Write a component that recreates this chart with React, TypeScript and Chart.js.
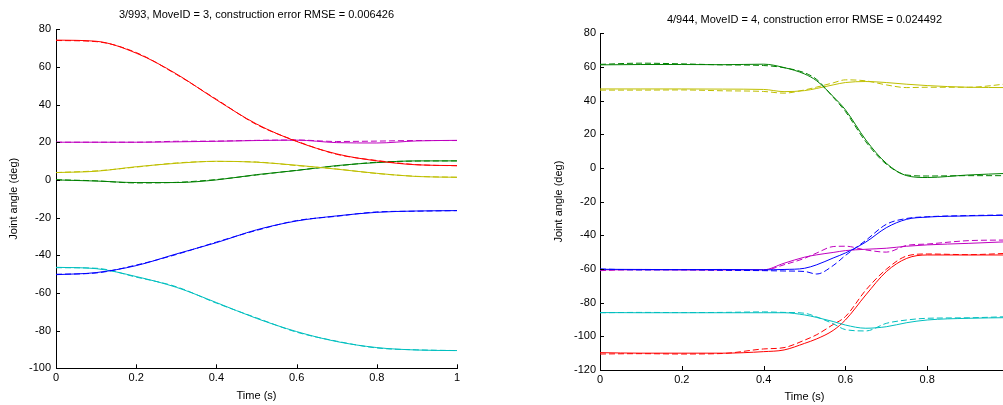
import React, { useEffect, useRef } from "react";
import { Chart, registerables } from "chart.js";

Chart.register(...registerables);

const LEFT_TITLE = "3/993, MoveID = 3, construction error RMSE = 0.006426";
const RIGHT_TITLE = "4/944, MoveID = 4, construction error RMSE = 0.024492";
const X_LABEL = "Time (s)";
const Y_LABEL = "Joint angle (deg)";

// ---------- left subplot (MoveID 3) ----------
const LEFT_TIME = [0, 0.1, 0.2, 0.3, 0.4, 0.5, 0.6, 0.7, 0.8, 0.9, 1.0];
const L_RED = [74.2, 73.6, 67.3, 56.3, 42.5, 29.7, 20.4, 13.8, 10.1, 8.0, 7.6];
const L_RED_REC = [74.0, 73.4, 67.6, 56.0, 42.8, 29.4, 20.6, 13.6, 10.3, 8.1, 7.5];
const L_MAGENTA = [20, 20, 20, 20.2, 20.5, 20.9, 21.1, 19.8, 19.6, 20.7, 21];
const L_MAGENTA_REC = [20, 20, 20, 20.5, 20.6, 21.0, 21.2, 20.4, 20.6, 20.9, 20.9];
const L_YELLOW = [3.9, 4.6, 7.0, 8.8, 9.9, 9.4, 7.8, 5.7, 3.5, 1.8, 1.4];
const L_YELLOW_REC = [3.9, 4.8, 6.8, 9.0, 9.8, 9.5, 7.6, 5.8, 3.4, 1.9, 1.4];
const L_GREEN = [0, -0.6, -1.4, -1.4, 0, 2.8, 5.0, 7.6, 9.2, 10.1, 10.1];
const L_GREEN_REC = [0.1, -0.5, -1.6, -1.3, 0.2, 2.6, 5.1, 7.4, 9.4, 10.0, 10.1];
const L_BLUE = [-50.3, -49.2, -45.5, -39.3, -33.3, -26.5, -21.8, -19.1, -17.2, -16.5, -16.3];
const L_BLUE_REC = [-50.1, -49.4, -45.2, -39.6, -33.0, -26.8, -21.6, -19.3, -17.0, -16.6, -16.3];
const L_CYAN = [-46.4, -47.1, -51.3, -57.0, -65.1, -73.5, -80.5, -85.8, -89.0, -90.3, -90.6];
const L_CYAN_REC = [-46.6, -46.9, -51.6, -56.7, -65.4, -73.2, -80.8, -85.6, -89.2, -90.2, -90.6];

// ---------- right subplot (MoveID 4) ----------
const RIGHT_TIME = [0, 0.1, 0.2, 0.3, 0.4, 0.45, 0.5, 0.53, 0.57, 0.6, 0.65, 0.7, 0.75, 0.8, 0.9, 1.0];
const R_GREEN = [61.2, 61.4, 61.4, 61.3, 61.6, 59.6, 55.8, 51.7, 42.4, 34.5, 16.6, 2.8, -4.6, -5.7, -4.2, -3.2];
const R_GREEN_REC = [61.5, 62.2, 61.8, 61.2, 60.8, 59.5, 56.5, 52.5, 42.0, 33.5, 15.5, 2.2, -4.2, -4.8, -4.6, -4.6];
const R_YELLOW = [46.9, 46.9, 46.9, 46.8, 46.6, 45.3, 45.9, 47.2, 49.3, 50.7, 51.3, 50.7, 49.7, 48.9, 47.9, 47.7];
const R_YELLOW_REC = [46.2, 46.2, 46.3, 45.8, 45.4, 44.4, 46.3, 48.0, 50.5, 52.3, 51.7, 49.3, 47.7, 47.9, 47.9, 50.0];
const R_BLUE = [-60.2, -60.3, -60.4, -60.3, -60.5, -60.3, -59.6, -57.5, -53.5, -50.5, -44.0, -35.5, -30.5, -29.2, -28.5, -28.1];
const R_BLUE_REC = [-60.0, -60.6, -60.5, -60.8, -61.0, -61.2, -61.5, -63.0, -58.0, -52.0, -43.0, -33.5, -30.0, -29.0, -28.3, -27.9];
const R_MAGENTA = [-60.5, -60.5, -60.6, -60.6, -60.5, -56.6, -53.0, -51.6, -50.2, -49.1, -48.3, -47.7, -46.5, -45.7, -44.8, -43.8];
const R_MAGENTA_REC = [-61.0, -60.3, -60.4, -60.6, -60.8, -57.5, -53.7, -50.5, -46.7, -46.5, -48.7, -50.0, -46.0, -45.2, -43.2, -42.8];
const R_CYAN = [-85.9, -86.0, -86.0, -86.0, -86.0, -86.0, -87.3, -88.8, -91.2, -93.3, -95.2, -94.3, -91.9, -90.3, -89.3, -88.9];
const R_CYAN_REC = [-86.0, -85.8, -85.9, -85.8, -85.5, -85.8, -86.3, -88.5, -92.5, -96.0, -96.8, -92.3, -90.3, -89.3, -89.0, -88.3];
const R_RED = [-109.7, -110.0, -110.0, -110.0, -109.1, -108.1, -104.2, -101.5, -96.5, -90.3, -75.4, -61.6, -53.7, -51.7, -51.7, -51.7];
const R_RED_REC = [-110.5, -110.3, -110.5, -110.2, -107.5, -106.7, -102.3, -99.0, -93.0, -88.3, -72.5, -60.2, -52.3, -51.1, -51.5, -50.7];

const X_TICK_STEP = 0.2;
const LEFT_Y_RANGE = [-100, 80];
const RIGHT_Y_RANGE = [-120, 80];
const Y_TICK_STEP = 20;

const COLORS = {
  red: "#ff0000",
  green: "#008000",
  blue: "#0000ff",
  cyan: "#00bfbf",
  magenta: "#bf00bf",
  yellow: "#bfbf00",
};

const FONT = "'Liberation Sans', Arial, Helvetica, sans-serif";

function pts(t: number[], v: number[]) {
  return t.map((x, i) => ({ x, y: v[i] }));
}

function series(t: number[], pairs: [string, string, number[], number[]][]) {
  const out: any[] = [];
  for (const [name, color, orig, rec] of pairs) {
    out.push({
      label: name + " (original)",
      data: pts(t, orig),
      borderColor: color,
      borderWidth: 1,
      pointRadius: 0,
      cubicInterpolationMode: "monotone",
      fill: false,
    });
    out.push({
      label: name + " (reconstructed)",
      data: pts(t, rec),
      borderColor: color,
      borderWidth: 1,
      borderDash: [6, 3],
      pointRadius: 0,
      cubicInterpolationMode: "monotone",
      fill: false,
    });
  }
  return out;
}

const inwardTicks = {
  id: "inwardTicks",
  afterDraw(chart: any) {
    const { ctx, chartArea, scales } = chart;
    const len = 4;
    ctx.save();
    ctx.strokeStyle = "#000";
    ctx.lineWidth = 1;
    ctx.beginPath();
    for (const t of scales.x.ticks) {
      const px = Math.round(scales.x.getPixelForValue(t.value)) + 0.5;
      if (px > chartArea.right + 1) continue;
      ctx.moveTo(px, chartArea.bottom);
      ctx.lineTo(px, chartArea.bottom - len);
    }
    for (const t of scales.y.ticks) {
      const py = Math.round(scales.y.getPixelForValue(t.value)) + 0.5;
      ctx.moveTo(chartArea.left, py);
      ctx.lineTo(chartArea.left + len, py);
    }
    ctx.stroke();
    ctx.restore();
  },
};

type Cfg = {
  title: string;
  titlePad: { top: number; bottom: number };
  layoutPad: { top: number; left: number; right: number; bottom: number };
  yRange: number[];
  yWidth: number;
  xHeight: number;
  yTitlePad: number;
  xTitlePad: number;
  yTickPad: number;
  xTickPad: number;
};

function makeOptions(c: Cfg): any {
  return {
    responsive: false,
    animation: false,
    layout: { padding: c.layoutPad },
    plugins: {
      legend: { display: false },
      tooltip: { enabled: false },
      title: {
        display: true,
        text: c.title,
        fullSize: false,
        color: "#000",
        font: { family: FONT, size: 11, weight: "normal" },
        padding: c.titlePad,
      },
    },
    scales: {
      x: {
        type: "linear",
        min: 0,
        max: 1,
        ticks: {
          stepSize: X_TICK_STEP,
          color: "#000",
          padding: c.xTickPad,
          font: { family: FONT, size: 11 },
          maxRotation: 0,
          callback: (v: number) => String(Math.round(v * 10) / 10),
        },
        grid: { drawOnChartArea: false, drawTicks: false },
        border: { display: true, color: "#000", width: 1 },
        title: {
          display: true,
          text: X_LABEL,
          color: "#000",
          font: { family: FONT, size: 11 },
          padding: { top: 0, bottom: c.xTitlePad },
        },
        afterFit: (s: any) => {
          s.height = c.xHeight;
        },
      },
      y: {
        type: "linear",
        min: c.yRange[0],
        max: c.yRange[1],
        ticks: {
          stepSize: Y_TICK_STEP,
          color: "#000",
          padding: c.yTickPad,
          font: { family: FONT, size: 11 },
          callback: (v: number) => String(v),
        },
        grid: { drawOnChartArea: false, drawTicks: false },
        border: { display: true, color: "#000", width: 1 },
        title: {
          display: true,
          text: Y_LABEL,
          color: "#000",
          font: { family: FONT, size: 11 },
          padding: { top: c.yTitlePad, bottom: 0 },
        },
        afterFit: (s: any) => {
          s.width = c.yWidth;
        },
      },
    },
  };
}

function Plot(props: { left: number; width: number; datasets: any[]; cfg: Cfg }) {
  const ref = useRef<HTMLCanvasElement | null>(null);
  useEffect(() => {
    if (!ref.current) return;
    const chart = new Chart(ref.current, {
      type: "line",
      data: { datasets: props.datasets },
      options: makeOptions(props.cfg),
      plugins: [inwardTicks],
    } as any);
    return () => chart.destroy();
  }, []);
  return (
    <canvas
      ref={ref}
      width={props.width}
      height={405}
      style={{ position: "absolute", left: props.left, top: 0, width: props.width, height: 405, display: "block" }}
    />
  );
}

export default function App() {
  useEffect(() => {
    document.body.style.overflow = "hidden";
  }, []);

  const leftSets = series(LEFT_TIME, [
    ["red", COLORS.red, L_RED, L_RED_REC],
    ["magenta", COLORS.magenta, L_MAGENTA, L_MAGENTA_REC],
    ["yellow", COLORS.yellow, L_YELLOW, L_YELLOW_REC],
    ["green", COLORS.green, L_GREEN, L_GREEN_REC],
    ["blue", COLORS.blue, L_BLUE, L_BLUE_REC],
    ["cyan", COLORS.cyan, L_CYAN, L_CYAN_REC],
  ]);
  const rightSets = series(RIGHT_TIME, [
    ["green", COLORS.green, R_GREEN, R_GREEN_REC],
    ["yellow", COLORS.yellow, R_YELLOW, R_YELLOW_REC],
    ["blue", COLORS.blue, R_BLUE, R_BLUE_REC],
    ["magenta", COLORS.magenta, R_MAGENTA, R_MAGENTA_REC],
    ["cyan", COLORS.cyan, R_CYAN, R_CYAN_REC],
    ["red", COLORS.red, R_RED, R_RED_REC],
  ]);

  const leftCfg: Cfg = {
    title: LEFT_TITLE,
    titlePad: { top: 8, bottom: 8 },
    layoutPad: { top: 0, left: 0, right: 43, bottom: 0 },
    yRange: LEFT_Y_RANGE,
    yWidth: 56,
    xHeight: 36.7,
    yTitlePad: 7.4,
    xTitlePad: 2.7,
    yTickPad: 5,
    xTickPad: 3,
  };
  const rightCfg: Cfg = {
    title: RIGHT_TITLE,
    titlePad: { top: 12, bottom: 7 },
    layoutPad: { top: 1, left: 0, right: 11, bottom: 0 },
    yRange: RIGHT_Y_RANGE,
    yWidth: 80,
    xHeight: 35,
    yTitlePad: 32.4,
    xTitlePad: 1.7,
    yTickPad: 4,
    xTickPad: 3,
  };

  return (
    <div
      style={{
        position: "absolute",
        left: 0,
        top: 0,
        width: 1003,
        height: 405,
        overflow: "hidden",
        background: "#fff",
      }}
    >
      <Plot left={0} width={500} datasets={leftSets} cfg={leftCfg} />
      <Plot left={520} width={500} datasets={rightSets} cfg={rightCfg} />
    </div>
  );
}
